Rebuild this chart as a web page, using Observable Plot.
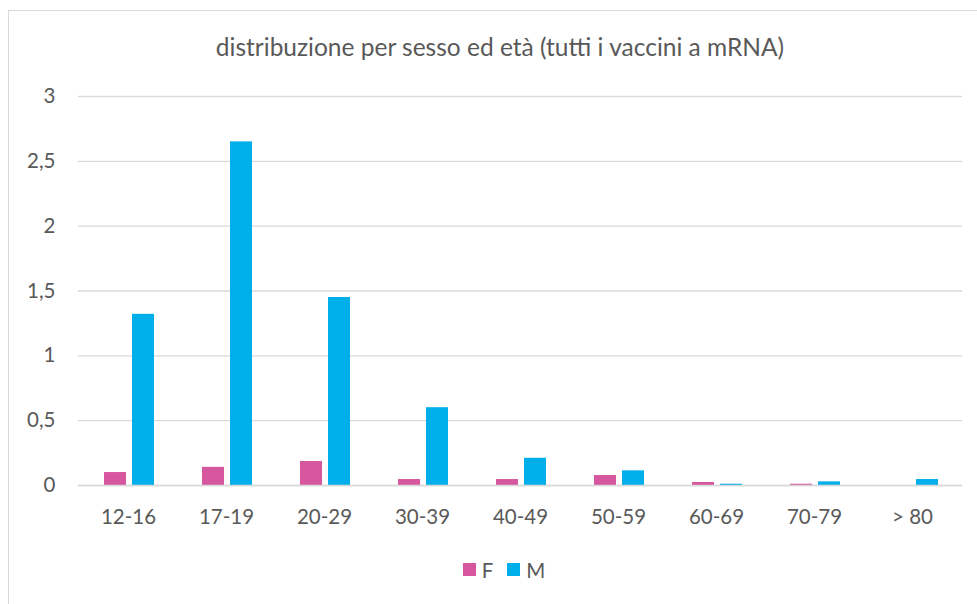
<!DOCTYPE html>
<html>
<head>
<meta charset="utf-8">
<script src="https://cdn.jsdelivr.net/npm/d3@7"></script>
<script src="https://cdn.jsdelivr.net/npm/@observablehq/plot@0.6"></script>
<style>
  html, body { margin: 0; padding: 0; background: #fff; }
  #wrap { position: relative; width: 977px; height: 604px; overflow: hidden; font-family: Lato, "Open Sans", sans-serif; color: #595959; }
  #frame { position: absolute; left: 8px; top: 10px; width: 990px; height: 620px; border: 1.5px solid #d9d9d9; box-sizing: border-box; }
  #title { position: absolute; left: 0; top: 0; width: 1000px; height: 80px; line-height: 94px; text-align: center; font-size: 24.5px; }
  #chart { position: absolute; left: 0; top: 80px; }
  #legend { position: absolute; left: 0; top: 535px; width: 1008px; height: 70px; display: flex; justify-content: center; align-items: center; font-size: 20.5px; gap: 14px; padding-bottom: 1px; box-sizing: border-box; }
  .item { display: flex; align-items: center; gap: 6px; }
  .sw { width: 13px; height: 13px; display: inline-block; }
</style>
</head>
<body>
<div id="wrap">
  <div id="frame"></div>
  <div id="title">distribuzione per sesso ed età (tutti i vaccini a mRNA)</div>
  <div id="chart"></div>
  <div id="legend"></div>
</div>
<script>
const categories = ["12-16", "17-19", "20-29", "30-39", "40-49", "50-59", "60-69", "70-79", "> 80"];
const femmine = [0.10, 0.14, 0.185, 0.046, 0.046, 0.077, 0.023, 0.01, 0];
const maschi = [1.32, 2.65, 1.45, 0.60, 0.21, 0.113, 0.01, 0.028, 0.046];
const yTicks = [0, 0.5, 1, 1.5, 2, 2.5, 3];
const seriesNames = ["F", "M"];
const seriesColors = ["#D6579E", "#00AFEA"];

const dataF = categories.map((c, i) => ({eta: c, valore: femmine[i], sesso: "F"}));
const dataM = categories.map((c, i) => ({eta: c, valore: maschi[i], sesso: "M"}));
const fmt = d => String(d).replace(".", ",");

const chart = Plot.plot({
  width: 977,
  height: 450,
  marginLeft: 78,
  marginRight: 15,
  marginTop: 16,
  marginBottom: 45,
  style: { fontFamily: "Lato, 'Open Sans', sans-serif", fontSize: "20.5px", color: "#595959", background: "transparent" },
  x: { domain: categories, padding: 0, label: null, tickSize: 0, tickPadding: 24 },
  y: { domain: [0, 3], ticks: yTicks, tickFormat: fmt, label: null, tickSize: 0, tickPadding: 23 },
  color: { domain: seriesNames, range: seriesColors },
  marks: [
    Plot.gridY(yTicks, { stroke: "#d9d9d9", strokeOpacity: 1, strokeWidth: 1.3 }),
    Plot.barY(dataF, { x: "eta", y: "valore", fill: "sesso", insetLeft: 25, insetRight: 51 }),
    Plot.barY(dataM, { x: "eta", y: "valore", fill: "sesso", insetLeft: 53, insetRight: 23 }),
    Plot.ruleY([0], { stroke: "#d9d9d9", strokeWidth: 1.5 })
  ]
});
document.getElementById("chart").appendChild(chart);

const legend = document.getElementById("legend");
seriesNames.forEach((n, i) => {
  const it = document.createElement("span");
  it.className = "item";
  const sw = document.createElement("span");
  sw.className = "sw";
  sw.style.background = seriesColors[i];
  const t = document.createElement("span");
  t.textContent = n;
  it.appendChild(sw);
  it.appendChild(t);
  legend.appendChild(it);
});
</script>
</body>
</html>
